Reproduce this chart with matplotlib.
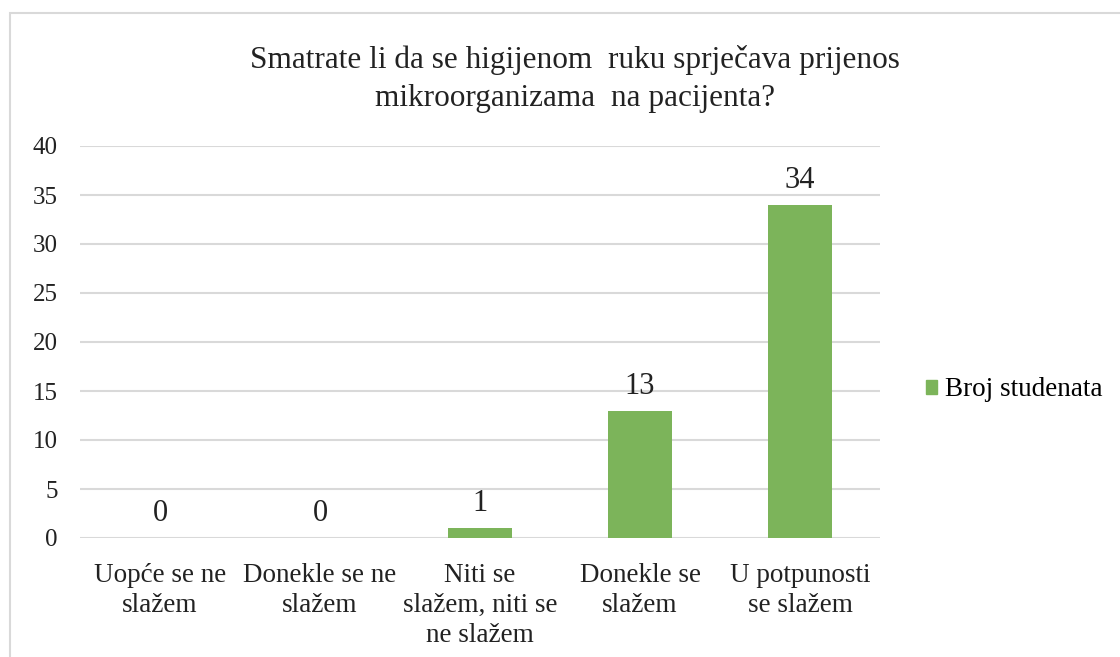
import matplotlib.pyplot as plt
from matplotlib.patches import Rectangle, Patch

categories = ['Uopće se ne\nslažem', 'Donekle se ne\nslažem', 'Niti se\nslažem, niti se\nne slažem',
              'Donekle se\nslažem', 'U potpunosti\nse slažem']
values = [0, 0, 1, 13, 34]
yticks = [0, 5, 10, 15, 20, 25, 30, 35, 40]
series_name = 'Broj studenata'
title = 'Smatrate li da se higijenom  ruku sprječava prijenos\nmikroorganizama  na pacijenta?'

plt.rcParams['font.family'] = ['Liberation Serif', 'DejaVu Serif']
green = '#7cb45a'
txt = '#222222'

fig = plt.figure(figsize=(11.2, 6.57), dpi=100)
ax = fig.add_axes([80 / 1120, 1 - 538 / 657, 800 / 1120, 392 / 657])

# chart border
fig.patches.append(Rectangle((10 / 1120, -0.1), 1.2, 1 - 13 / 657 + 0.1, transform=fig.transFigure,
                             fill=False, edgecolor='#d9d9d9', linewidth=1.5))

x = range(len(categories))
ax.bar(x, values, width=0.4, color=green, zorder=2)
for i, v in zip(x, values):
    ax.annotate(str(v), (i, v), xytext=(0, 7), textcoords='offset points',
                ha='center', va='bottom', fontsize=22, color=txt)

ax.set_xlim(-0.5, len(categories) - 0.5)
ax.set_ylim(0, 40)
ax.set_yticks(yticks)
ax.set_xticks(list(x))
ax.set_xticklabels(categories, fontsize=19.5, linespacing=1.25, color=txt)
ax.tick_params(axis='y', labelsize=18, colors=txt, length=0, pad=16)
ax.tick_params(axis='x', length=0, pad=18)
ax.grid(axis='y', color='#d9d9d9', linewidth=1.5, zorder=0)
for s in ax.spines.values():
    s.set_visible(False)

fig.text(575 / 1120, 1 - 79 / 657, title, ha='center', va='center', fontsize=22.5,
         linespacing=1.38, color=txt)

fig.legend(handles=[Patch(color=green, label=series_name)], loc='center left',
           bbox_to_anchor=(902 / 1120, 1 - 390 / 657), frameon=False, fontsize=19.5,
           handlelength=0.4, handleheight=0.4, handletextpad=0.3)

fig.savefig('out.png', dpi=100)
